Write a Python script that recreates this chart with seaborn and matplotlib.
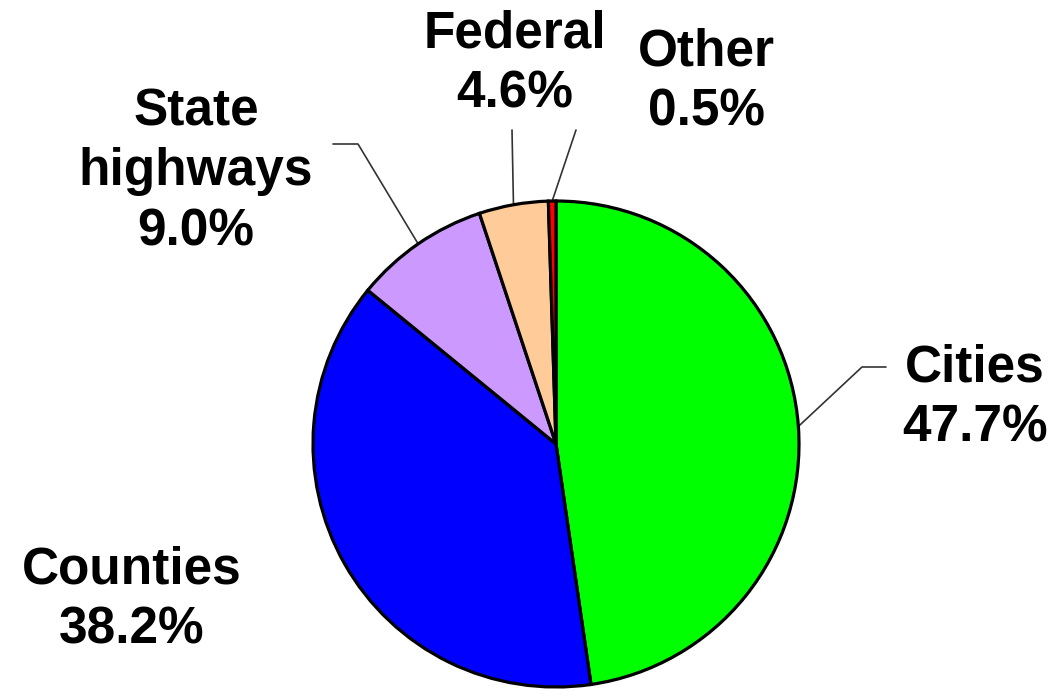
import numpy as np
import matplotlib
matplotlib.use("Agg")
import matplotlib.pyplot as plt
import seaborn as sns

# Share of road miles by owner
categories = ["Cities", "Counties", "State\nhighways", "Federal", "Other"]
shares = [47.7, 38.2, 9.0, 4.6, 0.5]
colors = ["#00FF00", "#0000FF", "#CC99FF", "#FFCC99", "#FF0000"]

sns.set_theme(style="white")
plt.rcParams["font.family"] = ["Liberation Sans", "DejaVu Sans"]

W, H = 1058, 698
fig = plt.figure(figsize=(W / 100, H / 100), dpi=100)
ax = fig.add_axes([0, 0, 1, 1])

cx, cy, r = 556, H - 444, 243
wedges, _ = ax.pie(
    shares, colors=colors, startangle=90, counterclock=False,
    center=(cx, cy), radius=r, frame=True,
    wedgeprops=dict(edgecolor="black", linewidth=2.3),
)
ax.set_xlim(0, W)
ax.set_ylim(0, H)
ax.set_aspect("auto")
ax.axis("off")

# Label layout: text centre and leader-line elbow points (screen px, y down)
layout = {
    "Cities": dict(text=(975, 398), path=[(862, 367), (886, 367)]),
    "Counties": dict(text=(132, 600), path=None),
    "State\nhighways": dict(text=(196, 172), path=[(358, 144), (333, 144)]),
    "Federal": dict(text=(515, 64), path=[(512, 130)]),
    "Other": dict(text=(706, 82), path=[(576, 130)]),
}

for w, cat, val in zip(wedges, categories, shares):
    lay = layout[cat]
    tx, ty = lay["text"]
    ax.text(tx, H - ty, f"{cat}\n{val:.1f}%", ha="center", va="center",
            fontsize=37, fontweight="bold", color="black", linespacing=1.3)
    if lay["path"]:
        ang = np.deg2rad((w.theta1 + w.theta2) / 2)
        ax0 = cx + r * np.cos(ang)
        ay0 = cy + r * np.sin(ang)
        xs = [ax0] + [p[0] for p in lay["path"]]
        ys = [ay0] + [H - p[1] for p in lay["path"]]
        ax.plot(xs, ys, color="#333333", linewidth=1.2, zorder=0)

fig.savefig("out.png", dpi=100)
